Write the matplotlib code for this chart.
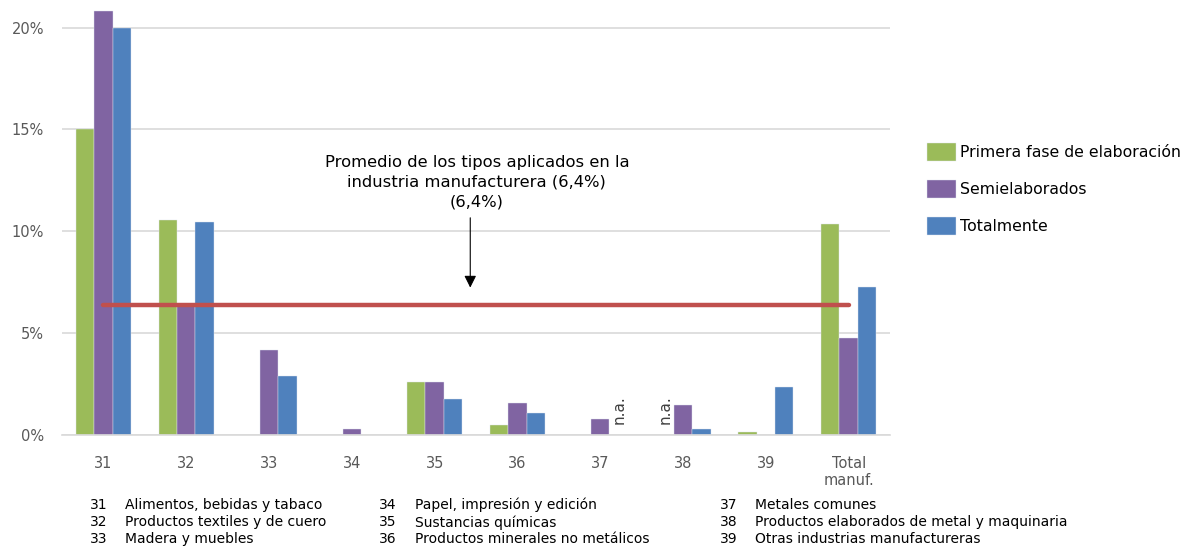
import matplotlib
matplotlib.use("Agg")
import matplotlib.pyplot as plt
import numpy as np

categories = ["31", "32", "33", "34", "35", "36", "37", "38", "39", "Total\nmanuf."]
primera = [15.0, 10.57, 0, 0, 2.58, 0.49, np.nan, np.nan, 0.15, 10.37]
semi = [20.8, 6.4, 4.18, 0.27, 2.58, 1.57, 0.79, 1.47, 0, 4.77]
total = [20.0, 10.47, 2.9, 0, 1.77, 1.08, np.nan, 0.28, 2.38, 7.27]
series_names = ["Primera fase de elaboración", "Semielaborados", "Totalmente"]
colors = ["#9BBB59", "#8064A2", "#4F81BD"]
promedio = 6.4
yticks = [0, 5, 10, 15, 20]
ytick_labels = ["0%", "5%", "10%", "15%", "20%"]
notes = [
    [("31", "Alimentos, bebidas y tabaco"), ("32", "Productos textiles y de cuero"), ("33", "Madera y muebles")],
    [("34", "Papel, impresión y edición"), ("35", "Sustancias químicas"), ("36", "Productos minerales no metálicos")],
    [("37", "Metales comunes"), ("38", "Productos elaborados de metal y maquinaria"), ("39", "Otras industrias manufactureras")],
]

fig = plt.figure(figsize=(11.82, 5.47), dpi=100)
ax = fig.add_axes([0.0525, 0.2048, 0.7005, 0.78])
x = np.arange(len(categories))
w = 0.222
for i, (vals, c, name) in enumerate(zip([primera, semi, total], colors, series_names)):
    ax.bar(x + (i - 1) * w, np.nan_to_num(vals), width=w, color=c, label=name, zorder=2,
           edgecolor="#dfe6f0", linewidth=0.3)

ax.set_xlim(-0.5, len(categories) - 0.5)
ax.set_ylim(0, 20.95)
ax.set_yticks(yticks)
ax.set_yticklabels(ytick_labels)
ax.set_xticks(x)
ax.set_xticklabels(categories)
ax.grid(axis="y", color="#d9d9d9", lw=1.2, zorder=0)
for s in ["top", "right", "left"]:
    ax.spines[s].set_visible(False)
ax.spines["bottom"].set_color("#d9d9d9")
ax.spines["bottom"].set_linewidth(1.2)
ax.tick_params(length=0, colors="#595959", labelsize=10.5)
ax.tick_params(axis="x", pad=15)
ax.tick_params(axis="y", pad=13)

# n.a. labels
for idx, series_i in [(6, 2), (7, 0)]:
    ax.text(idx + (series_i - 1) * w, 0.55, "n.a.", rotation=90, ha="center", va="bottom",
            fontsize=11, color="#404040")

# Average line
ax.plot([0, 9], [promedio, promedio], color="#C0504D", lw=3.2, zorder=3, solid_capstyle="round")

ax.annotate("", xy=(4.43, 7.1), xytext=(4.43, 10.8),
            arrowprops=dict(arrowstyle="-|>", color="black", lw=0.8, mutation_scale=18))
ax.text(4.51, 13.75, "Promedio de los tipos aplicados en la\nindustria manufacturera (6,4%)\n(6,4%)",
        ha="center", va="top", fontsize=11.8, color="black", linespacing=1.4)

# legend
handles, labels = ax.get_legend_handles_labels()
fig.legend(handles, labels, loc="upper left", bbox_to_anchor=(0.772, 0.765), frameon=False,
           fontsize=11.3, handlelength=1.9, handleheight=1.4, labelspacing=1.2, handletextpad=0.25)

# bottom notes
col_x = [0.076, 0.321, 0.609]
row_y = [0.077, 0.045, 0.014]
for cx, col in zip(col_x, notes):
    for ry, (num, txt) in zip(row_y, col):
        fig.text(cx, ry, num, fontsize=10, color="black", va="center")
        fig.text(cx + 0.030, ry, txt, fontsize=10, color="black", va="center")

fig.savefig("out.png", dpi=100)
